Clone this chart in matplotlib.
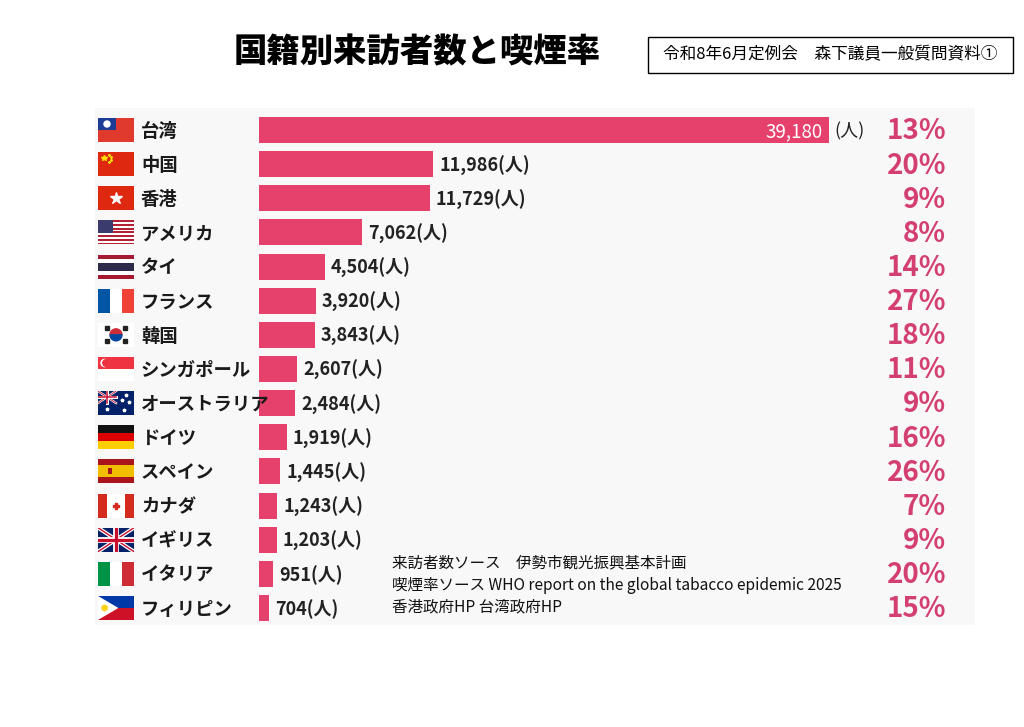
import numpy as np
import matplotlib.pyplot as plt
from matplotlib.patches import Rectangle, Polygon, Circle, Wedge

plt.rcParams['font.family'] = ['Noto Sans CJK JP', 'DejaVu Sans']

# データ
countries = ['台湾', '中国', '香港', 'アメリカ', 'タイ', 'フランス', '韓国', 'シンガポール',
             'オーストラリア', 'ドイツ', 'スペイン', 'カナダ', 'イギリス', 'イタリア', 'フィリピン']
flag_codes = ['tw', 'cn', 'hk', 'us', 'th', 'fr', 'kr', 'sg', 'au', 'de', 'es', 'ca', 'gb', 'it', 'ph']
visitors = [39180, 11986, 11729, 7062, 4504, 3920, 3843, 2607, 2484, 1919, 1445, 1243, 1203, 951, 704]
smoking = [13, 20, 9, 8, 14, 27, 18, 11, 9, 16, 26, 7, 9, 20, 15]
sources = ['来訪者数ソース　伊勢市観光振興基本計画',
           '喫煙率ソース WHO report on the global tabacco epidemic 2025',
           '香港政府HP 台湾政府HP']
title = '国籍別来訪者数と喫煙率'
note = '令和8年6月定例会　森下議員一般質問資料①'

BAR = '#e6416d'
PCT = '#d43f72'
W, H = 1024, 727


def draw_flag(a, code):
    def rect(x, y, w, h, c):
        a.add_patch(Rectangle((x, y), w, h, color=c, lw=0))
    if code == 'tw':
        rect(0, 0, 3, 2, '#e03a2f')
        rect(0, 1, 1.5, 1, '#1c3c96')
        a.add_patch(Circle((0.75, 1.5), 0.25, color='white'))
    elif code == 'cn':
        rect(0, 0, 3, 2, '#de2910')
        a.plot([0.5], [1.5], marker='*', ms=4, color='#ffde00')
        a.plot([0.9, 1.05, 1.05, 0.9], [1.8, 1.6, 1.35, 1.15], ls='none', marker='*', ms=1.5, color='#ffde00')
    elif code == 'hk':
        rect(0, 0, 3, 2, '#de2910')
        a.plot([1.5], [1.0], marker='*', ms=9, color='white')
    elif code == 'us':
        for k in range(13):
            rect(0, 2 - (k + 1) * 2 / 13, 3, 2 / 13, '#b22234' if k % 2 == 0 else 'white')
        rect(0, 2 - 14 / 13, 1.25, 14 / 13, '#3c3b6e')
    elif code == 'th':
        for y0, h, c in [(0, 1 / 3, '#a51931'), (1 / 3, 1 / 3, 'white'), (2 / 3, 2 / 3, '#2d2a4a'),
                         (4 / 3, 1 / 3, 'white'), (5 / 3, 1 / 3, '#a51931')]:
            rect(0, y0, 3, h, c)
    elif code == 'fr':
        rect(0, 0, 1, 2, '#0055a4'); rect(1, 0, 1, 2, 'white'); rect(2, 0, 1, 2, '#ef4135')
    elif code == 'kr':
        rect(0, 0, 3, 2, 'white')
        a.add_patch(Wedge((1.5, 1), 0.5, 0, 180, color='#cd2e3a'))
        a.add_patch(Wedge((1.5, 1), 0.5, 180, 360, color='#0047a0'))
        for (x, y) in [(0.75, 1.55), (2.25, 1.55), (0.75, 0.45), (2.25, 0.45)]:
            a.plot([x], [y], marker='s', ms=2.5, color='#222')
    elif code == 'sg':
        rect(0, 0, 3, 2, 'white')
        rect(0, 1, 3, 1, '#ef3340')
        a.add_patch(Circle((0.55, 1.5), 0.3, color='white'))
        a.add_patch(Circle((0.68, 1.5), 0.28, color='#ef3340'))
    elif code == 'au':
        rect(0, 0, 3, 2, '#012169')
        a.plot([0, 1.5], [1, 2], color='white', lw=1.6)
        a.plot([0, 1.5], [2, 1], color='white', lw=1.6)
        a.plot([0, 1.5], [1, 2], color='#c8102e', lw=0.6)
        a.plot([0, 1.5], [2, 1], color='#c8102e', lw=0.6)
        a.plot([0.75, 0.75], [1, 2], color='white', lw=2.2)
        a.plot([0, 1.5], [1.5, 1.5], color='white', lw=2.2)
        a.plot([0.75, 0.75], [1, 2], color='#c8102e', lw=1.1)
        a.plot([0, 1.5], [1.5, 1.5], color='#c8102e', lw=1.1)
        a.plot([0.75, 2.2, 2.6, 2.0, 2.3], [0.5, 0.4, 1.1, 1.3, 1.7], ls='none', marker='*', ms=2.5, color='white')
    elif code == 'de':
        rect(0, 4 / 3, 3, 2 / 3, '#111111'); rect(0, 2 / 3, 3, 2 / 3, '#dd0000'); rect(0, 0, 3, 2 / 3, '#ffce00')
    elif code == 'es':
        rect(0, 0, 3, 2, '#aa151b'); rect(0, 0.5, 3, 1, '#f1bf00')
        a.add_patch(Rectangle((0.8, 0.75), 0.4, 0.5, color='#aa151b', lw=0))
    elif code == 'ca':
        rect(0, 0, 3, 2, 'white'); rect(0, 0, 0.75, 2, '#d52b1e'); rect(2.25, 0, 0.75, 2, '#d52b1e')
        a.plot([1.5], [1.0], marker='P', ms=5, color='#d52b1e')
    elif code == 'gb':
        rect(0, 0, 3, 2, '#012169')
        a.plot([0, 3], [0, 2], color='white', lw=2.8)
        a.plot([0, 3], [2, 0], color='white', lw=2.8)
        a.plot([0, 3], [0, 2], color='#c8102e', lw=1.0)
        a.plot([0, 3], [2, 0], color='#c8102e', lw=1.0)
        a.plot([1.5, 1.5], [0, 2], color='white', lw=4.2)
        a.plot([0, 3], [1, 1], color='white', lw=4.2)
        a.plot([1.5, 1.5], [0, 2], color='#c8102e', lw=2.3)
        a.plot([0, 3], [1, 1], color='#c8102e', lw=2.3)
    elif code == 'it':
        rect(0, 0, 1, 2, '#009246'); rect(1, 0, 1, 2, 'white'); rect(2, 0, 1, 2, '#ce2b37')
    elif code == 'ph':
        rect(0, 1, 3, 1, '#0038a8'); rect(0, 0, 3, 1, '#ce1126')
        a.add_patch(Polygon([(0, 0), (0, 2), (1.7, 1)], closed=True, color='white', lw=0))
        a.add_patch(Circle((0.55, 1), 0.22, color='#fcd116'))


fig = plt.figure(figsize=(W / 100, H / 100), dpi=100)
fig.patch.set_facecolor('white')

# 背景・タイトル
bg = fig.add_axes([0, 0, 1, 1])
bg.set_xlim(0, W)
bg.set_ylim(H, 0)
bg.axis('off')
bg.add_patch(Rectangle((95, 108), 880, 517, color='#f8f8f8', lw=0))
bg.text(417, 52, title, ha='center', va='center', fontsize=24, fontweight='heavy', color='black')
bg.add_patch(Rectangle((648, 37), 365, 36, fill=False, edgecolor='black', lw=1))
bg.text(830, 55, note, ha='center', va='center', fontsize=12, color='black')
for j, s in enumerate(sources):
    bg.text(392, 563 + 22 * j, s, ha='left', va='center', fontsize=11.2, color='#111111')

# 棒グラフ
n = len(countries)
x0_px, row0_px, step_px = 259, 130, 34.14
k = 570 / visitors[0]
ax = fig.add_axes([95 / W, (H - 625) / H, 880 / W, 517 / H])
ax.patch.set_alpha(0)
ax.set_xlim((95 - x0_px) / k, (975 - x0_px) / k)
ax.set_ylim((625 - row0_px) / step_px, (108 - row0_px) / step_px)
ax.axis('off')

y = np.arange(n)
ax.barh(y, visitors, height=0.76, color=BAR)

for i, (c, v, p) in enumerate(zip(countries, visitors, smoking)):
    yt = i + 0.04
    if i == 0:
        ax.text(v - 6 / k, yt, f'{v:,}', ha='right', va='center', fontsize=13.5, color='white')
        ax.text(v + 5 / k, yt, '(人)', ha='left', va='center', fontsize=13, color='#222222')
    else:
        ax.text(v + 6 / k, yt, f'{v:,}(人)', ha='left', va='center', fontsize=13,
                fontweight='bold', color='#222222')
    ax.text((141 - x0_px) / k, yt, c, ha='left', va='center', fontsize=13.2,
            fontweight='bold', color='#1a1a1a')
    ax.text((946 - x0_px) / k, yt, f'{p}%', ha='right', va='center', fontsize=20,
            fontweight='bold', color=PCT)

# 国旗
for i, code in enumerate(flag_codes):
    cy = row0_px + step_px * i
    fa = fig.add_axes([98 / W, (H - cy - 12) / H, 36 / W, 24 / H])
    fa.set_xlim(0, 3)
    fa.set_ylim(0, 2)
    fa.axis('off')
    draw_flag(fa, code)

fig.savefig('out.png', dpi=100)
